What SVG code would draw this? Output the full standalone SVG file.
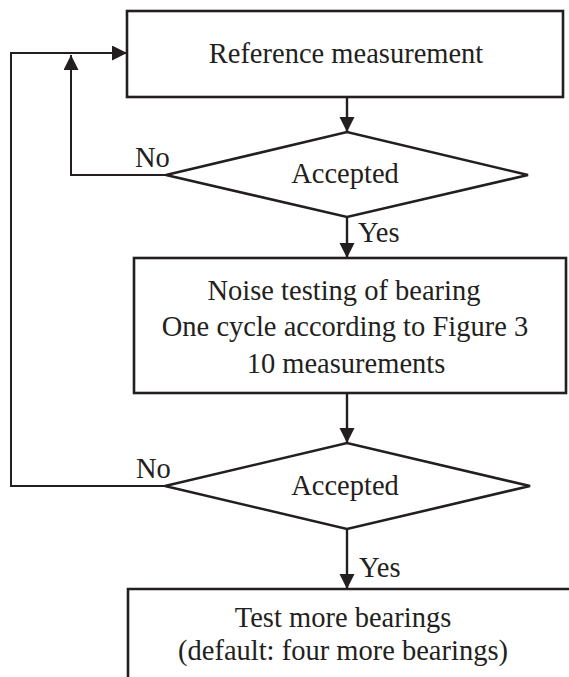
<svg xmlns="http://www.w3.org/2000/svg" width="569" height="677" viewBox="0 0 569 677">
<style>
.shape{fill:#fff;stroke:#231f20;stroke-width:2.6}
.line{fill:none;stroke:#231f20;stroke-width:2.4}
.loop{fill:none;stroke:#231f20;stroke-width:2}
text{font-family:"Liberation Serif","Times New Roman",serif;font-size:28.5px;fill:#231f20}
.c{text-anchor:middle}
</style>
<defs>
<marker id="ah" markerUnits="userSpaceOnUse" markerWidth="16" markerHeight="16" refX="15" refY="7.5" orient="auto">
<path d="M0,0 L15,7.5 L0,15 z" fill="#231f20"/>
</marker>
</defs>
<rect width="569" height="677" fill="#fff"/>
<g id="connectors">
<path class="line" d="M347,97 V132" marker-end="url(#ah)"/>
<path class="line" d="M347,217 V258" marker-end="url(#ah)"/>
<path class="loop" d="M166,175 H71 V55" marker-end="url(#ah)"/>
<path class="line" d="M347,393 V443" marker-end="url(#ah)"/>
<path class="loop" d="M165,486 H11 V53 H127" marker-end="url(#ah)"/>
<path class="line" d="M347,529 V589" marker-end="url(#ah)"/>
<text x="135" y="167">No</text>
<text x="358" y="242">Yes</text>
<text x="136" y="478">No</text>
<text x="359" y="577">Yes</text>
</g>
<g id="ref">
<rect class="shape" x="127" y="11" width="436" height="86"/>
<text class="c" x="346" y="63">Reference measurement</text>
</g>
<g id="acc1">
<path class="shape" d="M166,175 L347,132 L528,175 L347,217 z"/>
<text class="c" x="345" y="183">Accepted</text>
</g>
<g id="noise">
<rect class="shape" x="134" y="258" width="432" height="135"/>
<text class="c" x="344" y="300">Noise testing of bearing</text>
<text class="c" x="345" y="336">One cycle according to Figure 3</text>
<text class="c" x="346" y="373">10 measurements</text>
</g>
<g id="acc2">
<path class="shape" d="M165,486 L347,443 L530,486 L347,529 z"/>
<text class="c" x="345" y="495">Accepted</text>
</g>
<g id="more">
<path class="shape" d="M128,690 V589 H580"/>
<text class="c" x="343" y="627">Test more bearings</text>
<text class="c" x="343" y="660">(default: four more bearings)</text>
</g>
</svg>
